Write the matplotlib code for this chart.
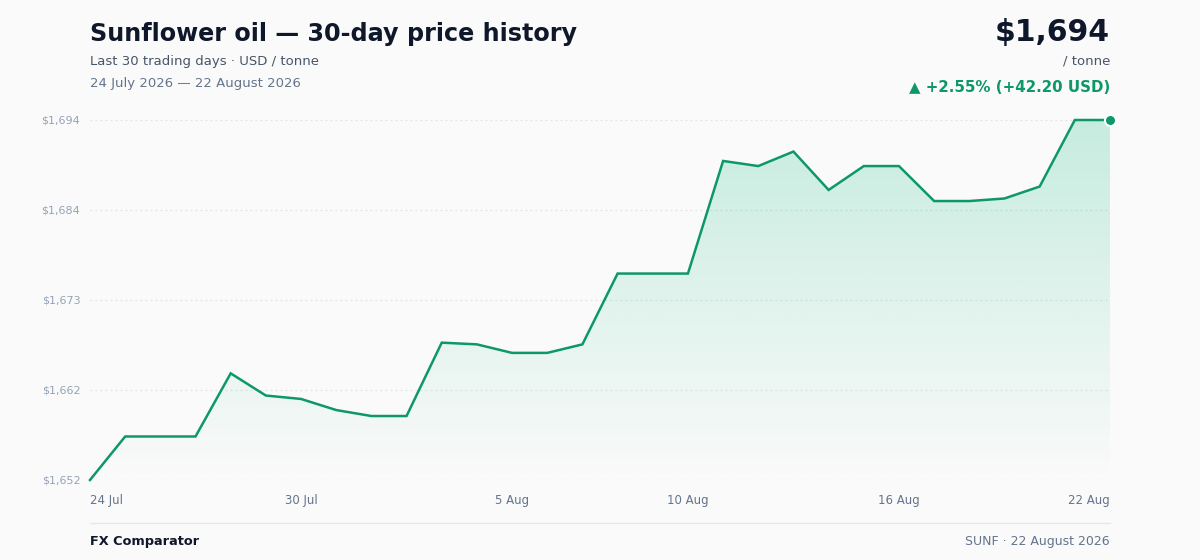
import numpy as np
import pandas as pd
import matplotlib
matplotlib.use("Agg")
import matplotlib.pyplot as plt
from matplotlib.patches import Polygon

# price per tonne, USD, one value per calendar day from 24 Jul 2026
prices = [1651.9, 1657.0, 1657.0, 1657.0, 1664.4, 1661.8, 1661.4, 1660.1, 1659.4, 1659.4,
          1668.0, 1667.8, 1666.8, 1666.8, 1667.8, 1676.1, 1676.1, 1676.1, 1689.3, 1688.7,
          1690.4, 1685.9, 1688.7, 1688.7, 1684.6, 1684.6, 1684.9, 1686.3, 1694.1, 1694.1]
dates = pd.date_range("2026-07-24", periods=len(prices), freq="D")
tick_idx = [0, 6, 12, 17, 23, 29]
tick_labels = ["24 Jul", "30 Jul", "5 Aug", "10 Aug", "16 Aug", "22 Aug"]

GREEN = "#0e9868"
BG = "#fafafa"
DARK = "#0f172a"
W, H = 1200, 560


def fx(px):
    return px / W


def fy(py):
    return 1 - py / H


def draw_chart():
    x = np.arange(len(prices))
    y = np.array(prices)
    lo, hi = y.min(), y.max()

    fig = plt.figure(figsize=(12, 5.6), dpi=100, facecolor=BG)
    ax = fig.add_axes([fx(90), fy(480), fx(1020), 360 / H])
    ax.set_facecolor(BG)
    ax.set_xlim(0, len(prices) - 1)
    ax.set_ylim(lo, hi)

    # gradient fill under the line
    grad = np.zeros((256, 1, 4))
    grad[:, 0, :3] = matplotlib.colors.to_rgb("#10b981")
    grad[:, 0, 3] = np.linspace(0.22, 0.0, 256)
    img = ax.imshow(grad, aspect="auto", extent=[0, len(prices) - 1, lo, hi],
                    origin="upper", zorder=1)
    verts = np.column_stack([np.r_[x, x[-1], x[0]], np.r_[y, lo, lo]])
    poly = Polygon(verts, closed=True, transform=ax.transData, fc="none", ec="none")
    ax.add_patch(poly)
    img.set_clip_path(poly)

    ax.plot(x, y, color=GREEN, lw=1.8, zorder=3, clip_on=False, solid_joinstyle="miter")
    ax.plot(x[-1], y[-1], "o", ms=8, color=GREEN, mec="white", mew=1.5, zorder=4, clip_on=False)

    yt = np.linspace(lo, hi, 5)
    ax.set_yticks(yt)
    ax.set_yticklabels(["${:,.0f}".format(v) for v in yt])
    for v in yt:
        ax.axhline(v, color="#e0e4e8", lw=0.9, ls=(0, (1.5, 2.5)), zorder=0.5)

    ax.set_xticks(tick_idx)
    ax.set_xticklabels(tick_labels)
    ax.tick_params(axis="y", length=0, pad=7, labelsize=8, labelcolor="#94a3b8")
    ax.tick_params(axis="x", length=0, pad=10, labelsize=8.5, labelcolor="#64748b")
    labels = ax.get_xticklabels()
    labels[0].set_horizontalalignment("left")
    labels[-1].set_horizontalalignment("right")
    for s in ax.spines.values():
        s.set_visible(False)

    # header
    fig.text(fx(90), fy(34), "Sunflower oil — 30-day price history", fontsize=17.2,
             fontweight="bold", color=DARK, va="center", ha="left")
    fig.text(fx(90), fy(61), "Last 30 trading days · USD / tonne", fontsize=9.5,
             color="#475569", va="center", ha="left")
    first, last = dates[0], dates[-1]
    fig.text(fx(90), fy(83), f"{first.day} {first:%B %Y} — {last.day} {last:%B %Y}",
             fontsize=9.5, color="#64748b", va="center", ha="left")

    change = y[-1] - y[0]
    pct = change / y[0] * 100
    fig.text(fx(1110), fy(33), "${:,.0f}".format(y[-1]), fontsize=21.5, fontweight="bold",
             color=DARK, va="center", ha="right")
    fig.text(fx(1110), fy(61), "/ tonne", fontsize=9.5, color="#475569", va="center", ha="right")
    fig.text(fx(1110), fy(87), f"▲ +{pct:.2f}% (+{change:.2f} USD)", fontsize=10.8,
             fontweight="bold", color=GREEN, va="center", ha="right")

    # footer
    fig.add_artist(plt.Line2D([fx(90), fx(1110)], [fy(523), fy(523)], color="#e5e7eb", lw=1))
    fig.text(fx(90), fy(541), "FX Comparator", fontsize=9.3, fontweight="bold",
             color=DARK, va="center", ha="left")
    fig.text(fx(1110), fy(541), f"SUNF · {last.day} {last:%B %Y}", fontsize=9,
             color="#64748b", va="center", ha="right")

    fig.savefig("out.png", dpi=100, facecolor=BG)
    plt.close(fig)


if __name__ == "__main__":
    draw_chart()
